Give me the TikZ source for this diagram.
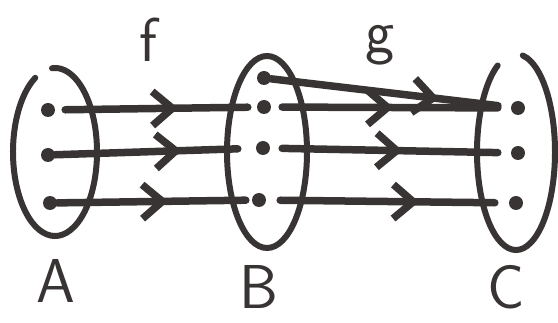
\documentclass[tikz,border=0pt]{standalone}
\usetikzlibrary{arrows.meta,decorations.markings}
\definecolor{ink}{HTML}{383434}

\begin{document}
\begin{tikzpicture}[x=1pt,y=1pt,line cap=round,
  set/.style={draw=ink,line width=6pt},
  pt/.style={circle,fill=ink,inner sep=0pt,minimum size=14pt},
  lbl/.style={text=ink,inner sep=0pt,font=\fontsize{62}{62}\selectfont\sffamily},
  maps/.style={draw=ink,line width=7.5pt,postaction={decorate},
    decoration={markings,mark=at position #1 with {\arrow{Straight Barb[length=20pt,width=34pt]}}}}]
  \useasboundingbox (0,0) rectangle (558,-323);
  % the three sets
  \draw[set] (55,-152) ++(118:42 and 84) arc[start angle=118,end angle=454,x radius=42,y radius=84];
  \draw[set] (267,-152) ellipse[x radius=40,y radius=96];
  \draw[set] (516,-152) ++(118:39 and 98) arc[start angle=118,end angle=440,x radius=39,y radius=98];
  % elements
  \foreach \n/\x/\y in {a1/48/110,a2/48/155,a3/50/203,
                        b1/264/78,b2/264/107,b3/263/148,b4/259/200,
                        c1/518/108,c2/518/153,c3/516/203}
    \node[pt] (\n) at (\x,-\y) {};
  % names
  \node[lbl] (f) at (148,-40) {f};
  \node[lbl] (g) at (380,-45) {g};
  \node[lbl] (A) at (56,-281) {A};
  \node[lbl] (B) at (259,-287) {B};
  \node[lbl] (C) at (506,-287) {C};
  % the maps f and g
  \foreach \s/\t/\p/\i/\o in {a1/b2/.61/10/9,a2/b3/.63/0/18,a3/b4/.57/0/6,
                              b1/c1/.70/0/13,b2/c1/.51/11/13,b3/c2/.55/12/13,b4/c3/.63/14/14}
    \draw[maps=\p,shorten <=\i pt,shorten >=\o pt] (\s) -- (\t);
\end{tikzpicture}
\end{document}
